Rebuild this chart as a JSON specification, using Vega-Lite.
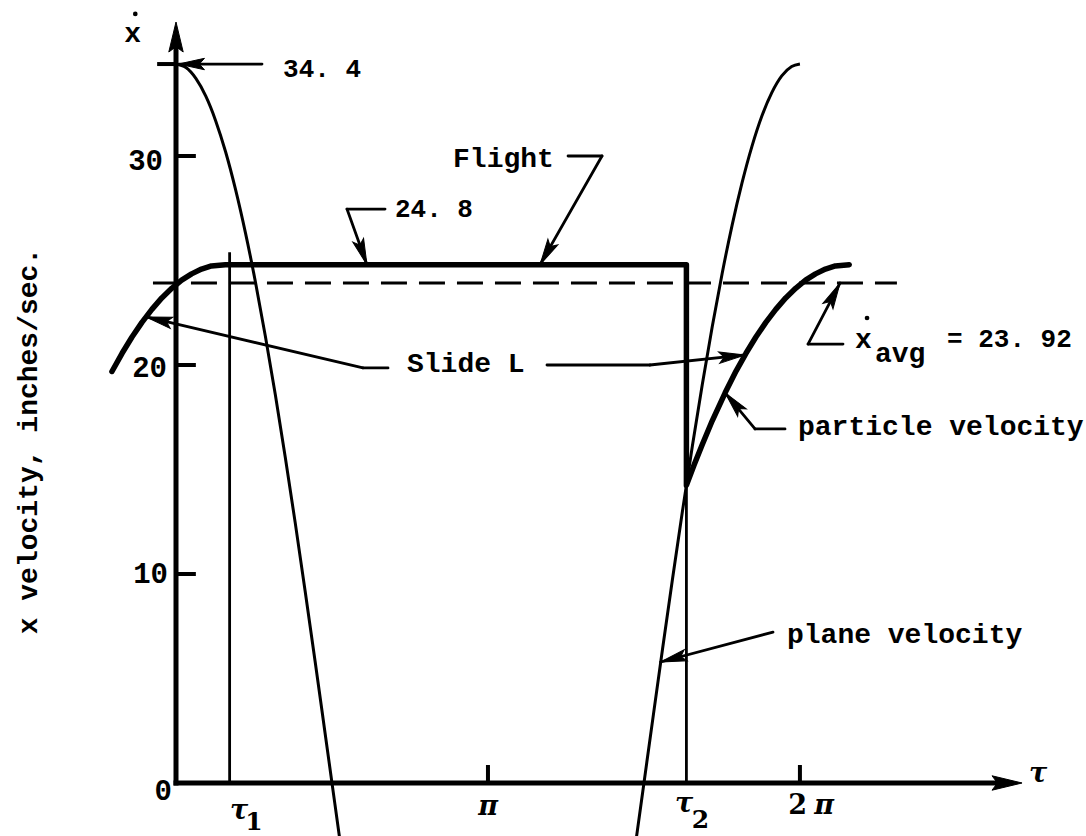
{
  "$schema": "https://vega.github.io/schema/vega-lite/v6.json",
  "width": 1086,
  "height": 836,
  "autosize": {"type": "none"},
  "padding": 0,
  "background": "white",
  "config": {"view": {"stroke": null}},
  "datasets": {
    "plane": [
      {"piece": "a", "t": 0.0, "v": 34.4},
      {"piece": "a", "t": 0.1, "v": 34.23},
      {"piece": "a", "t": 0.2, "v": 33.71},
      {"piece": "a", "t": 0.3, "v": 32.86},
      {"piece": "a", "t": 0.4, "v": 31.68},
      {"piece": "a", "t": 0.5, "v": 30.19},
      {"piece": "a", "t": 0.6, "v": 28.39},
      {"piece": "a", "t": 0.7, "v": 26.31},
      {"piece": "a", "t": 0.8, "v": 23.97},
      {"piece": "a", "t": 0.9, "v": 21.38},
      {"piece": "a", "t": 1.0, "v": 18.59},
      {"piece": "a", "t": 1.1, "v": 15.6},
      {"piece": "a", "t": 1.2, "v": 12.47},
      {"piece": "a", "t": 1.3, "v": 9.2},
      {"piece": "a", "t": 1.4, "v": 5.85},
      {"piece": "a", "t": 1.5, "v": 2.43},
      {"piece": "a", "t": 1.6, "v": -1.0},
      {"piece": "a", "t": 1.7, "v": -4.43},
      {"piece": "b", "t": 4.6, "v": -3.86},
      {"piece": "b", "t": 4.7, "v": -0.43},
      {"piece": "b", "t": 4.8, "v": 3.01},
      {"piece": "b", "t": 4.9, "v": 6.42},
      {"piece": "b", "t": 5.0, "v": 9.76},
      {"piece": "b", "t": 5.1, "v": 13.0},
      {"piece": "b", "t": 5.2, "v": 16.12},
      {"piece": "b", "t": 5.3, "v": 19.07},
      {"piece": "b", "t": 5.4, "v": 21.83},
      {"piece": "b", "t": 5.5, "v": 24.38},
      {"piece": "b", "t": 5.6, "v": 26.68},
      {"piece": "b", "t": 5.7, "v": 28.71},
      {"piece": "b", "t": 5.8, "v": 30.46},
      {"piece": "b", "t": 5.9, "v": 31.91},
      {"piece": "b", "t": 6.0, "v": 33.03},
      {"piece": "b", "t": 6.1, "v": 33.83},
      {"piece": "b", "t": 6.2, "v": 34.28},
      {"piece": "b", "t": 6.2832, "v": 34.4}
    ],
    "particle": [
      {"i": 1, "t": -0.645, "v": 19.69},
      {"i": 2, "t": -0.543, "v": 20.56},
      {"i": 3, "t": -0.443, "v": 21.34},
      {"i": 4, "t": -0.343, "v": 22.04},
      {"i": 5, "t": -0.243, "v": 22.66},
      {"i": 6, "t": -0.143, "v": 23.21},
      {"i": 7, "t": -0.043, "v": 23.67},
      {"i": 8, "t": 0.057, "v": 24.06},
      {"i": 9, "t": 0.157, "v": 24.36},
      {"i": 10, "t": 0.257, "v": 24.59},
      {"i": 11, "t": 0.357, "v": 24.74},
      {"i": 12, "t": 0.497, "v": 24.8},
      {"i": 13, "t": 5.14, "v": 24.8},
      {"i": 14, "t": 5.14, "v": 14.24},
      {"i": 15, "t": 5.22, "v": 15.25},
      {"i": 16, "t": 5.3, "v": 16.2},
      {"i": 17, "t": 5.4, "v": 17.33},
      {"i": 18, "t": 5.53, "v": 18.67},
      {"i": 19, "t": 5.64, "v": 19.71},
      {"i": 20, "t": 5.74, "v": 20.56},
      {"i": 21, "t": 5.84, "v": 21.34},
      {"i": 22, "t": 5.94, "v": 22.04},
      {"i": 23, "t": 6.04, "v": 22.66},
      {"i": 24, "t": 6.14, "v": 23.21},
      {"i": 25, "t": 6.24, "v": 23.67},
      {"i": 26, "t": 6.34, "v": 24.06},
      {"i": 27, "t": 6.44, "v": 24.36},
      {"i": 28, "t": 6.54, "v": 24.59},
      {"i": 29, "t": 6.64, "v": 24.74},
      {"i": 30, "t": 6.78, "v": 24.8}
    ],
    "segs": [
      {"kind": "axis", "t": 0, "v": -0.12, "t2": 0, "v2": 35.6},
      {"kind": "axis", "t": -0.025, "v": 0, "t2": 8.35, "v2": 0},
      {"kind": "tick", "t": 0, "v": 10, "t2": 0.2, "v2": 10},
      {"kind": "tick", "t": 0, "v": 20, "t2": 0.2, "v2": 20},
      {"kind": "tick", "t": 0, "v": 30, "t2": 0.2, "v2": 30},
      {"kind": "tick", "t": 3.1416, "v": 0, "t2": 3.1416, "v2": 0.86},
      {"kind": "tick", "t": 6.2832, "v": 0, "t2": 6.2832, "v2": 0.86},
      {"kind": "tick", "t": -0.19, "v": 34.4, "t2": 0, "v2": 34.4},
      {"kind": "marker", "t": 0.54, "v": 0, "t2": 0.54, "v2": 25.4},
      {"kind": "marker", "t": 5.14, "v": 0, "t2": 5.14, "v2": 24.8},
      {"kind": "leader", "t": 0.03, "v": 34.4, "t2": 0.866, "v2": 34.4},
      {"kind": "leader", "t": 2.105, "v": 27.46, "t2": 1.722, "v2": 27.46},
      {"kind": "leader", "t": 1.722, "v": 27.46, "t2": 1.923, "v2": 24.8},
      {"kind": "leader", "t": 3.948, "v": 30.0, "t2": 4.29, "v2": 30.0},
      {"kind": "leader", "t": 4.29, "v": 30.0, "t2": 3.666, "v2": 24.8},
      {"kind": "leader", "t": 2.135, "v": 19.86, "t2": 1.883, "v2": 19.86},
      {"kind": "leader", "t": 1.883, "v": 19.86, "t2": -0.3, "v2": 22.3},
      {"kind": "leader", "t": 3.736, "v": 20.0, "t2": 4.773, "v2": 20.0},
      {"kind": "leader", "t": 4.773, "v": 20.0, "t2": 5.73, "v2": 20.48},
      {"kind": "leader", "t": 6.133, "v": 16.94, "t2": 5.831, "v2": 16.94},
      {"kind": "leader", "t": 5.831, "v": 16.94, "t2": 5.53, "v2": 18.67},
      {"kind": "leader", "t": 6.717, "v": 21.0, "t2": 6.365, "v2": 21.0},
      {"kind": "leader", "t": 6.365, "v": 21.0, "t2": 6.687, "v2": 23.92},
      {"kind": "leader", "t": 6.012, "v": 7.22, "t2": 4.88, "v2": 5.79},
      {"kind": "avg", "t": -0.232, "v": 23.92, "t2": 7.26, "v2": 23.92}
    ],
    "heads": [
      {"kind": "axis", "t": 0, "v": 36.41, "heading": 0},
      {"kind": "axis", "t": 8.52, "v": 0, "heading": 90},
      {"kind": "leader", "t": 0.025, "v": 34.4, "heading": 270},
      {"kind": "leader", "t": 1.923, "v": 24.8, "heading": 160.3},
      {"kind": "leader", "t": 3.666, "v": 24.8, "heading": 209.6},
      {"kind": "leader", "t": -0.3, "v": 22.3, "heading": 283.2},
      {"kind": "leader", "t": 5.73, "v": 20.48, "heading": 84.0},
      {"kind": "leader", "t": 5.53, "v": 18.67, "heading": 319.5},
      {"kind": "leader", "t": 6.687, "v": 23.92, "heading": 27.7},
      {"kind": "leader", "t": 4.88, "v": 5.79, "heading": 255.1}
    ],
    "dots": [
      {"t": -0.41, "v": 36.8},
      {"t": 6.959, "v": 22.25}
    ],
    "labels": [
      {"role": "note", "t": 2.79, "v": 29.47, "label": "Flight"},
      {"role": "note", "t": 2.326, "v": 19.67, "label": "Slide L"},
      {"role": "note", "t": 6.264, "v": 16.65, "label": "particle velocity"},
      {"role": "note", "t": 6.153, "v": 6.7, "label": "plane velocity"},
      {"role": "note", "t": -0.52, "v": 35.45, "label": "x"},
      {"role": "note", "t": 6.838, "v": 20.81, "label": "x"},
      {"role": "note", "t": 7.039, "v": 20.14, "label": "avg"},
      {"role": "num", "t": 1.078, "v": 33.78, "label": "34. 4"},
      {"role": "num", "t": 2.205, "v": 27.08, "label": "24. 8"},
      {"role": "num", "t": 7.764, "v": 20.86, "label": "= 23. 92"},
      {"role": "tick", "t": -0.131, "v": 29.33, "label": "30"},
      {"role": "tick", "t": -0.091, "v": 19.43, "label": "20"},
      {"role": "tick", "t": -0.081, "v": 9.57, "label": "10"},
      {"role": "tick", "t": -0.04, "v": -0.81, "label": "0"},
      {"role": "greek", "t": 3.142, "v": -1.53, "label": "π"},
      {"role": "greek", "t": 6.526, "v": -1.5, "label": "π"},
      {"role": "greek", "t": 0.634, "v": -1.7, "label": "τ"},
      {"role": "greek", "t": 5.116, "v": -1.39, "label": "τ"},
      {"role": "greek", "t": 8.681, "v": 0.05, "label": "τ"},
      {"role": "digit", "t": 6.259, "v": -1.5, "label": "2"},
      {"role": "sub", "t": 0.785, "v": -2.25, "label": "1"},
      {"role": "sub", "t": 5.282, "v": -2.15, "label": "2"},
      {"role": "title", "t": -1.482, "v": 16.36, "label": "x velocity, inches/sec."}
    ]
  },
  "encoding": {
    "x": {"field": "t", "type": "quantitative", "scale": {"domain": [-1.7724, 9.1641], "nice": false, "zero": false}, "axis": null},
    "y": {"field": "v", "type": "quantitative", "scale": {"domain": [-2.5359, 37.4641], "nice": false, "zero": false}, "axis": null}
  },
  "layer": [
    {
      "data": {"name": "segs"},
      "transform": [{"filter": "datum.kind === 'avg'"}],
      "mark": {"type": "rule", "color": "black", "strokeWidth": 3, "strokeDash": [26, 12]},
      "encoding": {"x2": {"field": "t2"}, "y2": {"field": "v2"}}
    },
    {
      "data": {"name": "segs"},
      "transform": [{"filter": "datum.kind === 'marker'"}],
      "mark": {"type": "rule", "color": "black", "strokeWidth": 2.8},
      "encoding": {"x2": {"field": "t2"}, "y2": {"field": "v2"}}
    },
    {
      "data": {"name": "plane"},
      "mark": {"type": "line", "color": "black", "strokeWidth": 3, "interpolate": "monotone", "clip": true},
      "encoding": {"detail": {"field": "piece"}}
    },
    {
      "data": {"name": "particle"},
      "mark": {"type": "line", "color": "black", "strokeWidth": 5.5, "strokeCap": "round", "strokeJoin": "round"},
      "encoding": {"order": {"field": "i", "type": "quantitative"}}
    },
    {
      "data": {"name": "segs"},
      "transform": [{"filter": "datum.kind === 'axis'"}],
      "mark": {"type": "rule", "color": "black", "strokeWidth": 5},
      "encoding": {"x2": {"field": "t2"}, "y2": {"field": "v2"}}
    },
    {
      "data": {"name": "segs"},
      "transform": [{"filter": "datum.kind === 'tick'"}],
      "mark": {"type": "rule", "color": "black", "strokeWidth": 4},
      "encoding": {"x2": {"field": "t2"}, "y2": {"field": "v2"}}
    },
    {
      "data": {"name": "segs"},
      "transform": [{"filter": "datum.kind === 'leader'"}],
      "mark": {"type": "rule", "color": "black", "strokeWidth": 2.8, "strokeCap": "round"},
      "encoding": {"x2": {"field": "t2"}, "y2": {"field": "v2"}}
    },
    {
      "data": {"name": "heads"},
      "transform": [{"filter": "datum.kind === 'axis'"}],
      "mark": {"type": "point", "shape": "M0,0L0.24,1L0,0.82L-0.24,1Z", "size": 3600, "filled": true, "fill": "black", "stroke": "black", "strokeWidth": 1, "opacity": 1},
      "encoding": {"angle": {"field": "heading", "type": "quantitative", "scale": null}}
    },
    {
      "data": {"name": "heads"},
      "transform": [{"filter": "datum.kind === 'leader'"}],
      "mark": {"type": "point", "shape": "M0,0L0.22,1L0,0.8L-0.22,1Z", "size": 2704, "filled": true, "fill": "black", "stroke": "black", "strokeWidth": 1, "opacity": 1},
      "encoding": {"angle": {"field": "heading", "type": "quantitative", "scale": null}}
    },
    {
      "data": {"name": "dots"},
      "mark": {"type": "point", "shape": "circle", "size": 22, "filled": true, "fill": "black", "opacity": 1}
    },
    {
      "data": {"name": "labels"},
      "transform": [{"filter": "datum.role === 'note'"}],
      "mark": {"type": "text", "font": "Liberation Mono", "fontWeight": "bold", "fontSize": 28, "align": "left", "baseline": "alphabetic", "color": "black"},
      "encoding": {"text": {"field": "label"}}
    },
    {
      "data": {"name": "labels"},
      "transform": [{"filter": "datum.role === 'num'"}],
      "mark": {"type": "text", "font": "Liberation Mono", "fontWeight": "bold", "fontSize": 26, "align": "left", "baseline": "alphabetic", "color": "black"},
      "encoding": {"text": {"field": "label"}}
    },
    {
      "data": {"name": "labels"},
      "transform": [{"filter": "datum.role === 'tick'"}],
      "mark": {"type": "text", "font": "Liberation Mono", "fontWeight": "bold", "fontSize": 29, "align": "right", "baseline": "alphabetic", "color": "black"},
      "encoding": {"text": {"field": "label"}}
    },
    {
      "data": {"name": "labels"},
      "transform": [{"filter": "datum.role === 'greek'"}],
      "mark": {"type": "text", "font": "DejaVu Serif", "fontWeight": "bold", "fontStyle": "italic", "fontSize": 27, "align": "center", "baseline": "alphabetic", "color": "black"},
      "encoding": {"text": {"field": "label"}}
    },
    {
      "data": {"name": "labels"},
      "transform": [{"filter": "datum.role === 'digit'"}],
      "mark": {"type": "text", "font": "DejaVu Serif", "fontWeight": "bold", "fontSize": 27, "align": "center", "baseline": "alphabetic", "color": "black"},
      "encoding": {"text": {"field": "label"}}
    },
    {
      "data": {"name": "labels"},
      "transform": [{"filter": "datum.role === 'sub'"}],
      "mark": {"type": "text", "font": "DejaVu Serif", "fontWeight": "bold", "fontSize": 25, "align": "center", "baseline": "alphabetic", "color": "black"},
      "encoding": {"text": {"field": "label"}}
    },
    {
      "data": {"name": "labels"},
      "transform": [{"filter": "datum.role === 'title'"}],
      "mark": {"type": "text", "font": "Liberation Mono", "fontWeight": "bold", "fontSize": 28, "angle": 270, "align": "center", "baseline": "middle", "color": "black"},
      "encoding": {"text": {"field": "label"}}
    }
  ]
}
